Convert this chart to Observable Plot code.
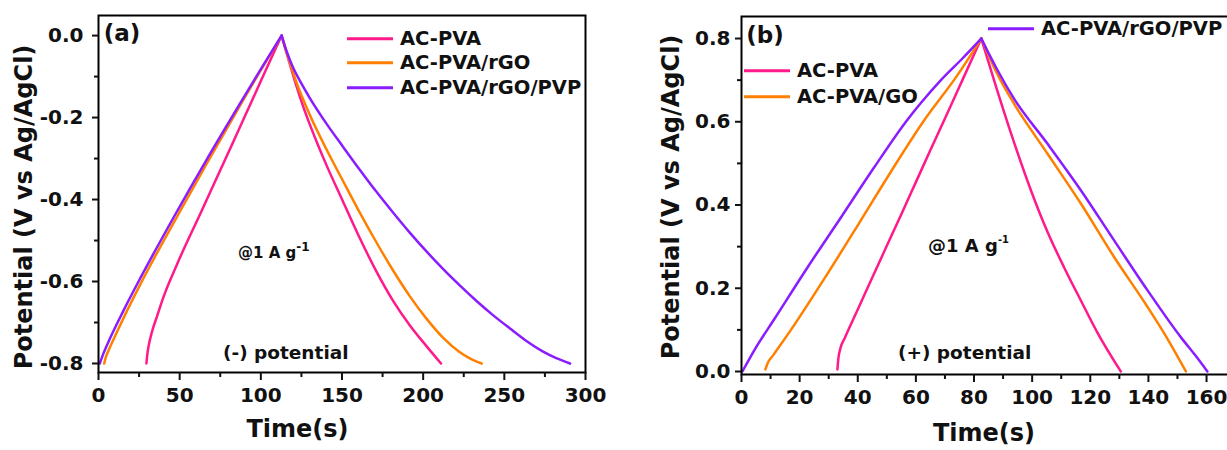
<!DOCTYPE html>
<html>
<head>
<meta charset="utf-8">
<script src="https://cdn.jsdelivr.net/npm/d3@7"></script>
<script src="https://cdn.jsdelivr.net/npm/@observablehq/plot@0.6"></script>
<style>
  html, body { margin: 0; padding: 0; background: #fff; }
  #wrap { position: relative; width: 1227px; height: 450px; overflow: hidden; background: #fff;
          font-family: "DejaVu Sans", Verdana, sans-serif; font-weight: bold; color: #111; }
  #wrap svg { position: absolute; top: 0; }
  .t { position: absolute; line-height: 1; white-space: nowrap; }
  .c { transform: translate(-50%, -50%); }
  .r { transform: translate(-50%, -50%) rotate(-90deg); }
  .lg { position: absolute; display: flex; align-items: center; transform: translateY(-50%);
        line-height: 1; white-space: nowrap; font-size: 19.5px; }
  .sw { display: inline-block; height: 3px; margin-right: 7px; }
  sup { font-size: 0.8em; vertical-align: 0; position: relative; top: -0.55em; }
</style>
</head>
<body>
<div id="wrap"></div>
<script>
// ---------- Panel (a): negative potential ----------
const aNames = ["AC-PVA", "AC-PVA/rGO", "AC-PVA/rGO/PVP"];
const aXTicks = [0, 50, 100, 150, 200, 250, 300];
const aXMinor = [25, 75, 125, 175, 225, 275];
const aYTicks = [-0.8, -0.6, -0.4, -0.2, 0.0];
const aYMinor = [-0.7, -0.5, -0.3, -0.1];

const aPvaChargeT = [29.5, 30, 31, 33, 36.2, 40, 48.6, 63, 83.4, 100, 112.8];
const aPvaChargeV = [-0.80, -0.78, -0.755, -0.722, -0.683, -0.638, -0.556, -0.432, -0.256, -0.111, 0.0];
const aPvaDischT = [112.8, 115.4, 118.5, 122, 126, 129.8, 135, 140.1, 150.4, 160.7, 171, 181.3, 191.6, 201.9, 211];
const aPvaDischV = [0.0, -0.036, -0.078, -0.124, -0.172, -0.213, -0.265, -0.313, -0.403, -0.492, -0.574, -0.646, -0.706, -0.757, -0.80];

const aRgoChargeT = [3.5, 4.5, 6, 10, 18, 26, 46.5, 67, 87.6, 100, 112.8];
const aRgoChargeV = [-0.80, -0.785, -0.77, -0.735, -0.668, -0.605, -0.455, -0.31, -0.168, -0.084, 0.0];
const aRgoDischT = [112.8, 115, 118, 122, 129.8, 140.1, 150.4, 160.7, 171, 181.3, 191.6, 201.9, 212.2, 222.4, 229, 236];
const aRgoDischV = [0.0, -0.03, -0.068, -0.115, -0.19, -0.275, -0.353, -0.43, -0.503, -0.572, -0.635, -0.69, -0.737, -0.772, -0.788, -0.80];

const aPvpChargeT = [0.8, 3, 7.4, 15, 26, 46.5, 67, 87.6, 100, 112.8];
const aPvpChargeV = [-0.80, -0.776, -0.736, -0.674, -0.59, -0.442, -0.30, -0.163, -0.082, 0.0];
const aPvpDischT = [112.8, 114.5, 116.5, 119.5, 124.7, 129.8, 140.1, 150.4, 160.7, 171, 181.3, 191.6, 201.9, 212.2, 222.4, 232.7, 243, 253.3, 263.6, 273.9, 282, 290.5];
const aPvpDischV = [0.0, -0.022, -0.045, -0.075, -0.115, -0.15, -0.213, -0.27, -0.326, -0.38, -0.431, -0.48, -0.526, -0.569, -0.609, -0.647, -0.682, -0.714, -0.745, -0.771, -0.787, -0.80];

// ---------- Panel (b): positive potential ----------
const bNames = ["AC-PVA", "AC-PVA/GO", "AC-PVA/rGO/PVP"];
const bXTicks = [0, 20, 40, 60, 80, 100, 120, 140, 160];
const bXMinor = [10, 30, 50, 70, 90, 110, 130, 150];
const bYTicks = [0.0, 0.2, 0.4, 0.6, 0.8];
const bYMinor = [0.1, 0.3, 0.5, 0.7];

const bPvaChargeT = [33, 33.3, 34, 35.5, 40, 45, 50, 55, 60, 65, 70, 76, 82.5];
const bPvaChargeV = [0.005, 0.03, 0.055, 0.08, 0.149, 0.226, 0.302, 0.378, 0.455, 0.532, 0.608, 0.70, 0.80];
const bPvaDischT = [82.5, 88, 93.8, 99.6, 105.3, 111, 116.8, 122.5, 130.5];
const bPvaDischV = [0.80, 0.675, 0.55, 0.435, 0.335, 0.25, 0.17, 0.093, 0.0];

const bGoChargeT = [8.2, 9, 11, 17, 28.4, 39.9, 51.4, 62.8, 74.3, 82.5];
const bGoChargeV = [0.005, 0.02, 0.04, 0.10, 0.222, 0.35, 0.48, 0.603, 0.712, 0.80];
const bGoDischT = [82.5, 85, 88, 93.8, 105.3, 116.8, 128.2, 139.7, 146, 152.9];
const bGoDischV = [0.80, 0.76, 0.715, 0.643, 0.523, 0.403, 0.275, 0.155, 0.085, 0.0];

const bPvpChargeT = [0.3, 5, 11.2, 22.7, 34.2, 45.6, 57.1, 61.7, 68.6, 76, 82.5];
const bPvpChargeV = [0.0, 0.058, 0.125, 0.25, 0.37, 0.49, 0.605, 0.645, 0.70, 0.752, 0.80];
const bPvpDischT = [82.5, 85, 88, 93.8, 105.3, 116.8, 128.2, 139.7, 151.2, 156, 160.3];
const bPvpDischV = [0.80, 0.765, 0.725, 0.655, 0.547, 0.435, 0.315, 0.195, 0.082, 0.04, 0.0];

const seriesColors = ["#ff1a8c", "#ff8000", "#8a1cff"];

function branch(name, part, T, V) {
  return T.map((t, i) => ({ t, v: V[i], name, part }));
}

const aRows = [
  ...branch(aNames[0], "c", aPvaChargeT, aPvaChargeV), ...branch(aNames[0], "d", aPvaDischT, aPvaDischV),
  ...branch(aNames[1], "c", aRgoChargeT, aRgoChargeV), ...branch(aNames[1], "d", aRgoDischT, aRgoDischV),
  ...branch(aNames[2], "c", aPvpChargeT, aPvpChargeV), ...branch(aNames[2], "d", aPvpDischT, aPvpDischV)
];
const bRows = [
  ...branch(bNames[0], "c", bPvaChargeT, bPvaChargeV), ...branch(bNames[0], "d", bPvaDischT, bPvaDischV),
  ...branch(bNames[1], "c", bGoChargeT, bGoChargeV), ...branch(bNames[1], "d", bGoDischT, bGoDischV),
  ...branch(bNames[2], "c", bPvpChargeT, bPvpChargeV), ...branch(bNames[2], "d", bPvpDischT, bPvpDischV)
];

function panel(o) {
  return Plot.plot({
    width: o.width, height: 450,
    marginLeft: o.ml, marginRight: o.mr, marginTop: o.mt, marginBottom: o.mb,
    x: { domain: o.xDomain },
    y: { domain: o.yDomain },
    color: { domain: o.names, range: seriesColors },
    style: { fontFamily: "'DejaVu Sans', Verdana, sans-serif", fontWeight: "bold", color: "#111", background: "transparent", overflow: "hidden" },
    marks: [
      Plot.line(o.rows, { x: "t", y: "v", z: d => d.name + "|" + d.part, stroke: "name", strokeWidth: 2.5, curve: "monotone-x" }),
      Plot.frame({ stroke: "#000", strokeWidth: 2 }),
      Plot.axisX({ ticks: o.xTicks, tickSize: 8, tickPadding: 7, tickFormat: d => String(d), fontSize: 20, fontWeight: "bold", strokeWidth: 2, label: null }),
      Plot.axisX({ ticks: o.xMinor, tickSize: 5, tickFormat: () => "", strokeWidth: 2, label: null }),
      Plot.axisY({ ticks: o.yTicks, tickSize: 6, tickPadding: o.yPad, tickFormat: d => d.toFixed(1), fontSize: 20, fontWeight: "bold", strokeWidth: 2, label: null }),
      Plot.axisY({ ticks: o.yMinor, tickSize: 4, tickFormat: () => "", strokeWidth: 2, label: null })
    ]
  });
}

const wrap = document.getElementById("wrap");

const svgA = panel({
  width: 614, ml: 98, mr: 29, mt: 15, mb: 78,
  xDomain: [0, 300], yDomain: [-0.822, 0.049],
  names: aNames, rows: aRows,
  xTicks: aXTicks, xMinor: aXMinor, yTicks: aYTicks, yMinor: aYMinor, yPad: 9
});
svgA.style.left = "0px";
wrap.appendChild(svgA);

const svgB = panel({
  width: 617, ml: 127, mr: 2, mt: 16, mb: 76,
  xDomain: [0, 167.9], yDomain: [-0.0072, 0.8529],
  names: bNames, rows: bRows,
  xTicks: bXTicks, xMinor: bXMinor, yTicks: bYTicks, yMinor: bYMinor, yPad: 5
});
svgB.style.left = "614px";
wrap.appendChild(svgB);

// ---------- text overlays ----------
function addText(html, cls, left, top, size, extra) {
  const el = document.createElement("div");
  el.className = "t " + cls;
  el.innerHTML = html;
  el.style.left = left + "px";
  el.style.top = top + "px";
  el.style.fontSize = size + "px";
  if (extra) Object.assign(el.style, extra);
  wrap.appendChild(el);
  return el;
}
function addLegend(name, color, left, cy, swW) {
  const el = document.createElement("div");
  el.className = "lg";
  el.style.left = left + "px";
  el.style.top = cy + "px";
  el.innerHTML = `<span class="sw" style="width:${swW}px;background:${color}"></span><span>${name}</span>`;
  wrap.appendChild(el);
}

const yTitle = "Potential (V vs Ag/AgCl)";
const xTitle = "Time(s)";

// Panel (a)
addText("(a)", "c", 122, 33, 23);
addText(yTitle, "r", 24, 207, 24);
addText(xTitle, "c", 297.5, 429, 24);
addText("@1 A g<sup>-1</sup>", "", 238, 253, 15, { transform: "translateY(-50%)" });
addText("(-) potential", "", 223, 353, 18.5, { transform: "translateY(-50%)" });
addLegend(aNames[0], seriesColors[0], 347, 39, 46);
addLegend(aNames[1], seriesColors[1], 347, 63, 46);
addLegend(aNames[2], seriesColors[2], 347, 88, 46);

// Panel (b)
addText("(b)", "c", 765, 35, 23);
addText(yTitle, "r", 671, 197, 24);
addText(xTitle, "c", 984, 433, 24);
addText("@1 A g<sup style='font-size:0.55em;top:-0.9em'>-1</sup>", "", 928, 246, 18, { transform: "translateY(-50%)" });
addText("(+) potential", "", 898, 353, 18.5, { transform: "translateY(-50%)" });
addLegend(bNames[0], seriesColors[0], 744, 71, 46);
addLegend(bNames[1], seriesColors[1], 744, 97, 46);
addLegend(bNames[2], seriesColors[2], 988, 29, 46);
</script>
</body>
</html>
